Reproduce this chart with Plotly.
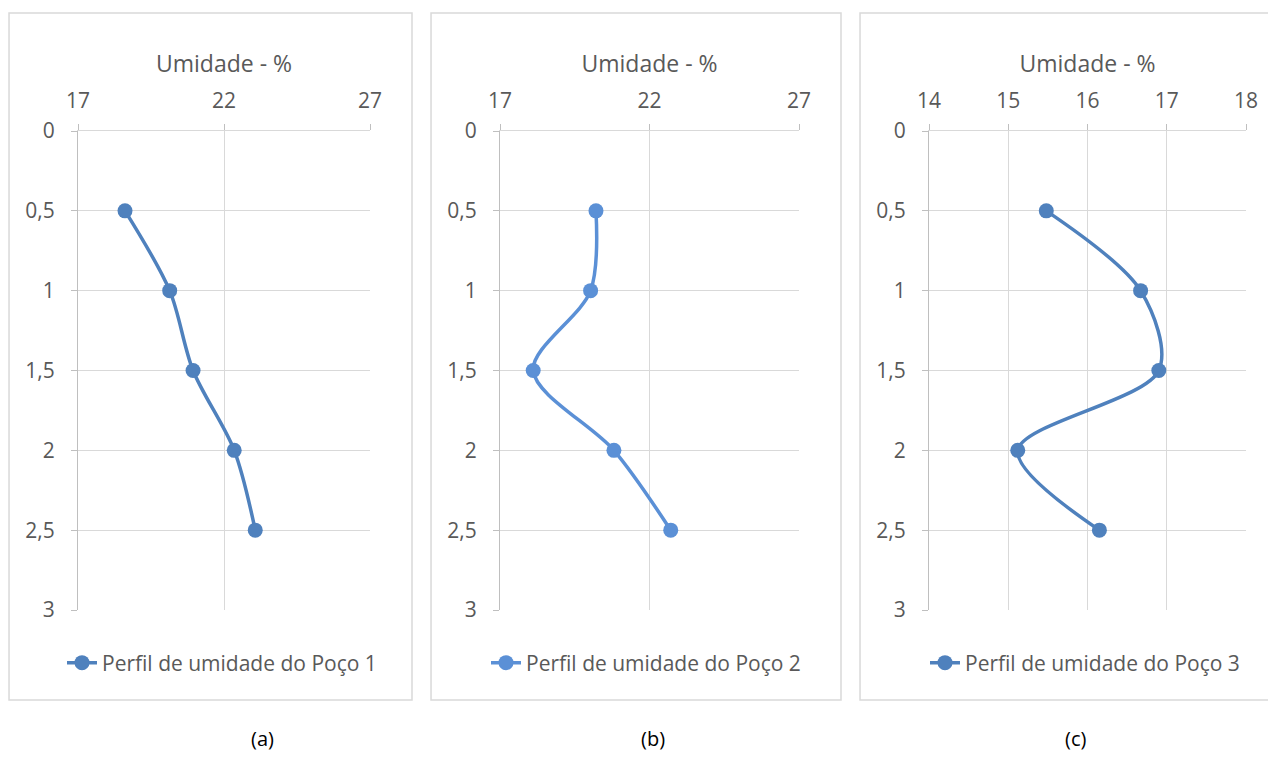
import plotly.graph_objects as go

# Data
depth = [0.5, 1.0, 1.5, 2.0, 2.5]
umid_poco1 = [18.61, 20.14, 20.94, 22.35, 23.07]
umid_poco2 = [20.21, 20.03, 18.11, 20.81, 22.71]
umid_poco3 = [15.48, 16.67, 16.90, 15.12, 16.15]
series_names = ["Perfil de umidade do Poço 1", "Perfil de umidade do Poço 2", "Perfil de umidade do Poço 3"]
captions = ["(a)", "(b)", "(c)"]
x_ranges = [[17, 27], [17, 27], [14, 18]]
x_dticks = [5, 5, 1]
y_tickvals = [0, 0.5, 1, 1.5, 2, 2.5, 3]
y_ticktext = ["0", "0,5", "1", "1,5", "2", "2,5", "3"]

W, H = 1276, 775
OFF = 8  # page body margin in the browser
colors = ["#4F81BD", "#5B90D6", "#4F81BD"]
FONT = "Open Sans"
GRAY = "#595959"


def px_x(p):
    return (p - OFF) / W


def px_y(p):
    return 1 - (p - OFF) / H


# pixel layout (page coordinates)
plot_px = [(78, 370), (500, 799), (929, 1246)]
plot_top, plot_bot = 131, 610
boxes = [(8, 412), (430, 841), (859, 1320)]
box_top, box_bot = 13, 700
legend_cx = [222, 646, 1085]
legend_cy = 663
caption_x = [262, 653, 1075]
caption_y = 738

fig = go.Figure()
data = [umid_poco1, umid_poco2, umid_poco3]
layout = {}
shapes = []
annotations = []
for i in range(3):
    sfx = "" if i == 0 else str(i + 1)
    fig.add_trace(go.Scatter(
        x=data[i], y=depth, mode="lines+markers", name=series_names[i],
        line=dict(color=colors[i], width=3.5, shape="spline", smoothing=0.9),
        marker=dict(color=colors[i], size=15),
        xaxis="x" + sfx, yaxis="y" + sfx,
        legend="legend" + sfx,
    ))
    x0, x1 = plot_px[i]
    layout["xaxis" + sfx] = dict(
        domain=[px_x(x0), px_x(x1)], range=x_ranges[i], dtick=x_dticks[i], tick0=x_ranges[i][0],
        side="top", anchor="y" + sfx, automargin=False,
        showgrid=True, gridcolor="#d9d9d9", gridwidth=1,
        showline=True, linecolor="#d9d9d9", linewidth=1,
        ticks="outside", ticklen=6, tickcolor="#bfbfbf", ticklabelstandoff=8,
        tickfont=dict(family=FONT, size=21, color=GRAY),
        title=dict(text="Umidade - %", font=dict(family=FONT, size=23, color=GRAY), standoff=6),
        zeroline=False, fixedrange=True,
    )
    layout["yaxis" + sfx] = dict(
        domain=[px_y(plot_bot), px_y(plot_top)], range=[3, 0],
        tickvals=y_tickvals, ticktext=y_ticktext, anchor="x" + sfx, automargin=False,
        showgrid=True, gridcolor="#d9d9d9", gridwidth=1,
        showline=True, linecolor="#bfbfbf", linewidth=1, mirror=False,
        ticks="outside", ticklen=6, tickcolor="#bfbfbf", ticklabelstandoff=12,
        tickfont=dict(family=FONT, size=21, color=GRAY),
        zeroline=False, fixedrange=True,
    )
    layout["legend" + sfx] = dict(
        x=px_x(legend_cx[i]), y=px_y(legend_cy), xanchor="center", yanchor="middle",
        xref="paper", yref="paper", bgcolor="rgba(0,0,0,0)",
        font=dict(family=FONT, size=21, color=GRAY),
    )
    bx0, bx1 = boxes[i]
    shapes.append(dict(type="rect", xref="paper", yref="paper",
                       x0=px_x(bx0) + 0.0008, x1=px_x(bx1), y0=px_y(box_bot), y1=px_y(box_top),
                       line=dict(color="#d9d9d9", width=1.5), fillcolor="rgba(0,0,0,0)", layer="below"))
    annotations.append(dict(text=captions[i], x=px_x(caption_x[i]), y=px_y(caption_y),
                            xref="paper", yref="paper", showarrow=False,
                            xanchor="center", yanchor="middle",
                            font=dict(family=FONT, size=20, color="#000000")))

fig.update_layout(
    width=W, height=H, margin=dict(l=0, r=0, t=0, b=0, autoexpand=False),
    paper_bgcolor="white", plot_bgcolor="white",
    shapes=shapes, annotations=annotations, showlegend=True,
    **layout,
)
fig.write_html("out.html")
